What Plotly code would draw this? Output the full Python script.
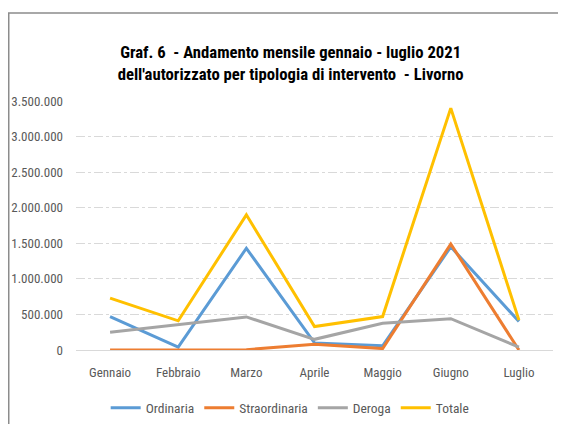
import plotly.graph_objects as go

MESI = ["Gennaio", "Febbraio", "Marzo", "Aprile", "Maggio", "Giugno", "Luglio"]

ORDINARIA     = [470000, 40000, 1430000, 100000, 60000, 1450000, 400000]
STRAORDINARIA = [0, 0, 5000, 80000, 20000, 1490000, 0]
DEROGA        = [250000, 355000, 465000, 150000, 375000, 440000, 40000]
TOTALE        = [730000, 410000, 1900000, 330000, 470000, 3400000, 420000]

SERIE = [
    ("Ordinaria", ORDINARIA, "#5B9BD5"),
    ("Straordinaria", STRAORDINARIA, "#ED7D31"),
    ("Deroga", DEROGA, "#A5A5A5"),
    ("Totale", TOTALE, "#FFC000"),
]

FONT = "Liberation Sans Narrow, Roboto Condensed, DejaVu Sans Condensed, sans-serif"
GRIGIO_TESTO = "#595959"

fig = go.Figure()
for nome, valori, colore in SERIE:
    fig.add_trace(go.Scatter(
        x=MESI,
        y=valori,
        mode="lines",
        name=nome,
        line=dict(color=colore, width=3),
    ))

# cornice esterna del grafico (come in Excel)
fig.add_shape(
    type="rect", xref="paper", yref="paper",
    x0=-0.141, x1=1.05, y0=-0.40, y1=1.353,
    line=dict(color="#8C8C8C", width=1.5),
    fillcolor="rgba(0,0,0,0)",
    layer="below",
)

# la pagina ha un margine di 8px: figura 558x416
fig.update_layout(
    width=558,
    height=416,
    margin=dict(l=68, r=13, t=93, b=74, autoexpand=False),
    paper_bgcolor="white",
    plot_bgcolor="white",
    separators=",.",
    font=dict(family=FONT, size=13, color=GRIGIO_TESTO),
    title=dict(
        text="Graf. 6  - Andamento mensile gennaio - luglio 2021<br>dell'autorizzato per tipologia di intervento  - Livorno",
        font=dict(family=FONT, size=16.7, color="black", weight="bold"),
        x=0.45, xref="paper", xanchor="center",
        y=0.88, yanchor="middle",
    ),
    legend=dict(
        orientation="h",
        x=0.449, xanchor="center",
        y=-0.233, yanchor="middle",
        font=dict(size=13.5, color=GRIGIO_TESTO),
        bgcolor="rgba(0,0,0,0)",
        itemwidth=30,
    ),
    showlegend=True,
)

fig.update_xaxes(
    range=[-0.5, 6.5],
    showgrid=False,
    showline=True,
    linecolor="#D9D9D9",
    linewidth=1,
    ticks="",
    automargin=False,
    ticklabelstandoff=10,
    tickfont=dict(size=13, color=GRIGIO_TESTO),
)
fig.update_yaxes(
    range=[0, 3500000],
    dtick=500000,
    tickformat=",.0f",
    showgrid=True,
    gridcolor="#D9D9D9",
    griddash="dashdot",
    gridwidth=1,
    zeroline=False,
    showline=False,
    ticks="",
    automargin=False,
    ticklabelstandoff=12,
    tickfont=dict(size=13, color=GRIGIO_TESTO),
)

fig.write_html("out.html")
